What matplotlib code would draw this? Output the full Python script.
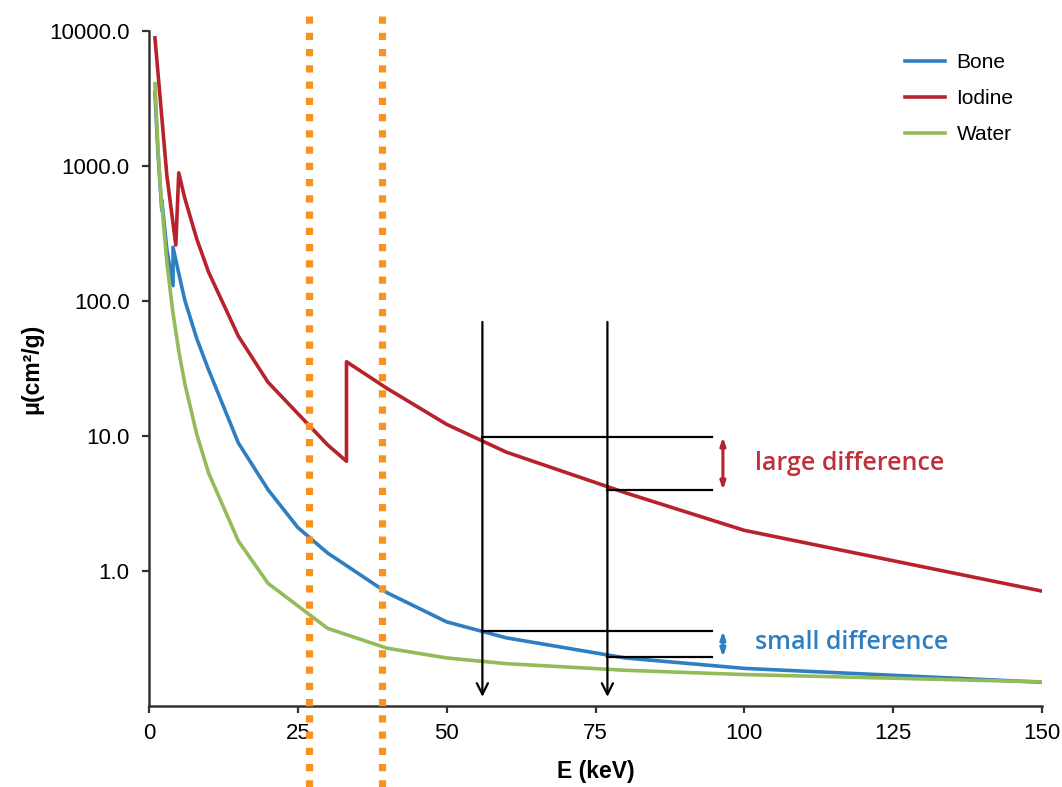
import numpy as np
import matplotlib
matplotlib.use('Agg')
from matplotlib import pyplot as plt

plt.rcParams['font.family'] = ['Liberation Sans', 'DejaVu Sans']

# mass attenuation coefficients, mu (cm^2/g) against photon energy (keV)
bone_energy = [1, 1.5, 2.15, 2.15, 3, 4.04, 4.04, 5, 6, 8, 10, 15, 20, 25, 30, 40, 50, 60, 80, 100, 150]
bone_mu = [3500, 1250, 470, 560, 240, 130, 250, 160, 102, 53, 31, 8.9, 4.0, 2.1, 1.36, 0.69, 0.42, 0.32, 0.227, 0.19, 0.15]

iodine_energy = [1, 2, 3, 4.5, 5.0, 6, 8, 10, 15, 20, 30, 33.17, 33.17, 40, 50, 60, 80, 100, 150]
iodine_mu = [8900, 2750, 850, 260, 890, 580, 290, 164, 55, 25, 8.6, 6.5, 35.5, 22.5, 12.2, 7.6, 3.8, 2.0, 0.71]

water_energy = [1, 1.5, 2, 3, 4, 5, 6, 8, 10, 15, 20, 30, 40, 50, 60, 80, 100, 150]
water_mu = [4078, 1376, 617, 193, 82.8, 42.6, 24.6, 10.4, 5.33, 1.67, 0.81, 0.376, 0.268, 0.227, 0.206, 0.184, 0.171, 0.151]

# energy windows (dotted) and the two probe energies (arrows)
window_energies = [26.8, 39.1]
probe_energies = [56, 77]
iodine_at_probes = [9.84, 3.98]
bone_at_probes = [0.36, 0.23]
probe_top = 70
probe_tip = 0.117
bracket_end = 94.5
marker_energy = 96.4

bone_color = '#2E7EC1'
iodine_color = '#B8222C'
water_color = '#93BB5A'
orange = '#F7931E'

fig = plt.figure(figsize=(10.62, 7.87), dpi=100)
ax = fig.add_axes([0.1403, 0.1029, 0.8409, 0.8577])

ax.plot(bone_energy, bone_mu, color=bone_color, lw=2.6, label='Bone')
ax.plot(iodine_energy, iodine_mu, color=iodine_color, lw=2.6, label='Iodine')
ax.plot(water_energy, water_mu, color=water_color, lw=2.6, label='Water')

for e in window_energies:
    ax.axvline(e, ymin=-0.12, ymax=1.032, color=orange, lw=5.2,
               linestyle=(0, (1, 1.25)), clip_on=False, zorder=5)

for e in probe_energies:
    ax.annotate('', xy=(e, probe_tip), xytext=(e, probe_top),
                arrowprops=dict(arrowstyle='->,head_length=0.8,head_width=0.4',
                                color='black', lw=1.6, shrinkA=0, shrinkB=0))

# horizontal guides from the probe lines out to the brackets
for e, iod, bon in zip(probe_energies, iodine_at_probes, bone_at_probes):
    ax.plot([e, bracket_end], [iod, iod], color='black', lw=1.6)
    ax.plot([e, bracket_end], [bon, bon], color='black', lw=1.6)

ax.annotate('', xy=(marker_energy, iodine_at_probes[1]), xytext=(marker_energy, iodine_at_probes[0]),
            arrowprops=dict(arrowstyle='<|-|>,head_length=0.45,head_width=0.15',
                            color=iodine_color, lw=2.2, shrinkA=0, shrinkB=0))
ax.annotate('', xy=(marker_energy, bone_at_probes[1]), xytext=(marker_energy, bone_at_probes[0]),
            arrowprops=dict(arrowstyle='<|-|>,head_length=0.45,head_width=0.15',
                            color=bone_color, lw=2.2, shrinkA=0, shrinkB=0))

ax.text(101.8, 6.3, 'large difference', color='#C0303A', fontsize=18,
        family=['Open Sans', 'DejaVu Sans'], fontweight='semibold', va='center', ha='left')
ax.text(101.8, 0.293, 'small difference', color=bone_color, fontsize=18,
        family=['Open Sans', 'DejaVu Sans'], fontweight='semibold', va='center', ha='left')

ax.set_yscale('log')
ax.set_xlim(0, 150)
ax.set_ylim(0.1, 10000)
ax.set_xticks([0, 25, 50, 75, 100, 125, 150])
ax.set_yticks([1, 10, 100, 1000, 10000])
ax.set_yticklabels(['1.0', '10.0', '100.0', '1000.0', '10000.0'])
ax.minorticks_off()
ax.tick_params(axis='both', labelsize=16, length=5, width=1.6, color='#333333', direction='out')
ax.tick_params(axis='y', pad=9)
ax.tick_params(axis='x', pad=7)

for side in ['top', 'right']:
    ax.spines[side].set_visible(False)
for side in ['left', 'bottom']:
    ax.spines[side].set_linewidth(1.8)
    ax.spines[side].set_color('#333333')

ax.set_xlabel('E (keV)', fontsize=16.5, fontweight='bold', labelpad=12)
ax.set_ylabel('μ(cm²/g)', fontsize=16.5, fontweight='bold', labelpad=4)

ax.legend(loc='upper left', bbox_to_anchor=(0.826, 0.995), frameon=False, fontsize=15,
          handlelength=1.9, handletextpad=0.55, labelspacing=0.82)

plt.savefig('out.png', dpi=100)
